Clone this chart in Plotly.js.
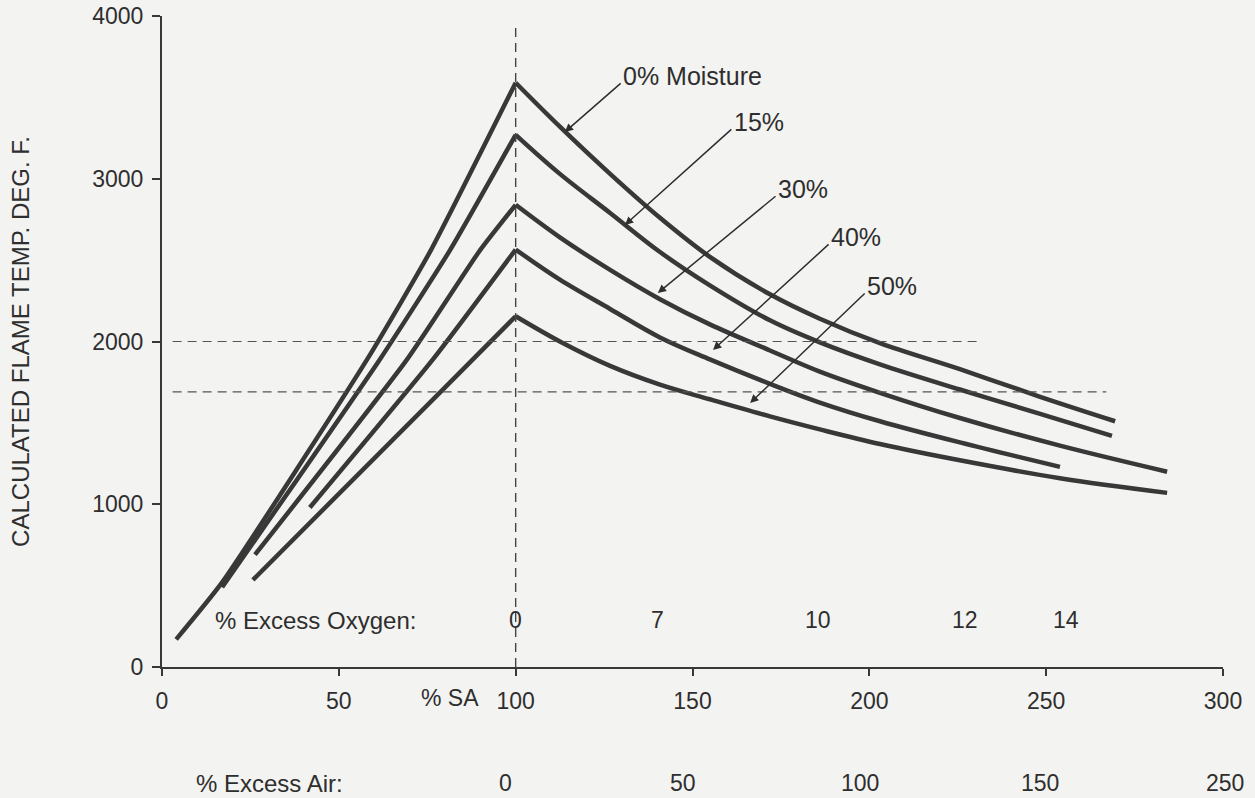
<!DOCTYPE html>
<html>
<head>
<meta charset="utf-8">
<script src="https://cdn.plot.ly/plotly-3.0.1.min.js"></script>
<style>html,body{margin:0;padding:0;background:#f3f3f1;}</style>
</head>
<body>
<div id="chart" style="width:1255px;height:798px;"></div>
<script>
// ---- data ----
const saTicks = [0, 50, 100, 150, 200, 250, 300];
const tempTicks = [0, 1000, 2000, 3000, 4000];

const seriesNames = ['0% Moisture', '15%', '30%', '40%', '50%'];

const moisture0_sa   = [4, 17, 58, 76, 100, 112.5, 126.7, 140.8, 154.9, 171.9, 186, 203, 225.6, 248.3, 269.5];
const moisture0_temp = [170, 520, 1890, 2560, 3590, 3320, 3030, 2760, 2520, 2290, 2140, 1990, 1830, 1660, 1510];

const moisture15_sa   = [17, 61.6, 81.4, 100, 112.5, 126.7, 140.8, 154.9, 171.9, 186, 203, 225.6, 248.3, 268.6];
const moisture15_temp = [490, 1890, 2560, 3270, 3030, 2790, 2550, 2345, 2130, 1995, 1860, 1705, 1555, 1420];

const moisture30_sa   = [26.3, 69.3, 89.9, 100, 112.5, 126.7, 140.8, 154.9, 171.9, 186, 203, 225.6, 253.9, 284.2];
const moisture30_temp = [690, 1890, 2560, 2840, 2640, 2440, 2260, 2105, 1945, 1815, 1685, 1530, 1360, 1200];

const moisture40_sa   = [41.8, 76.6, 100, 112.5, 126.7, 140.8, 154.9, 171.9, 186, 203, 225.6, 253.9];
const moisture40_temp = [980, 1890, 2565, 2380, 2200, 2025, 1890, 1740, 1625, 1510, 1380, 1230];

const moisture50_sa   = [25.7, 80.6, 100, 112.5, 126.7, 140.8, 154.9, 171.9, 186, 203, 225.6, 253.9, 284.2];
const moisture50_temp = [535, 1730, 2155, 2000, 1850, 1735, 1645, 1540, 1460, 1370, 1270, 1160, 1070];

// label leader lines: tip on curve, tail at label
const labelTipSA   = [113.9, 130.9, 140.2, 155.8, 166.3];
const labelTipTemp = [3287, 2716, 2298, 1948, 1622];
const labelTailSA   = [130.1, 161.4, 173.9, 188.9, 199.1];
const labelTailTemp = [3594, 3312, 2900, 2605, 2304];

// reference (dashed) lines
const refSA = 100;
const refSATop = 3960;
const refTemps = [2000, 1690];
const refTempStart = [3, 3];
const refTempEnd = [232, 267];

// secondary scales printed under the chart
const oxygenLabels = ['0', '7', '10', '12', '14'];
const oxygenPos = [100, 140.2, 185.5, 227, 255.6];
const excessAirLabels = ['0', '50', '100', '150', '250'];
const excessAirPos = [97, 147.3, 197.4, 248.3, 300.6];

// ---- build ----
const ink = '#383838';
const txt = '#2e2e2e';
const FONT = 'Liberation Sans, Arial, Helvetica, sans-serif';

const allSA = [moisture0_sa, moisture15_sa, moisture30_sa, moisture40_sa, moisture50_sa];
const allT  = [moisture0_temp, moisture15_temp, moisture30_temp, moisture40_temp, moisture50_temp];

const traces = [];
allSA.forEach((sa, i) => {
  const t = allT[i];
  let pk = 0;
  t.forEach((v, j) => { if (v > t[pk]) pk = j; });
  traces.push({
    x: sa.slice(0, pk + 1), y: t.slice(0, pk + 1), type: 'scatter', mode: 'lines',
    name: seriesNames[i], line: {color: ink, width: 4.5, shape: 'spline', smoothing: 0.5},
    showlegend: false, hoverinfo: 'x+y'
  });
  traces.push({
    x: sa.slice(pk), y: t.slice(pk), type: 'scatter', mode: 'lines',
    name: seriesNames[i], line: {color: ink, width: 4.5, shape: 'spline', smoothing: 1},
    showlegend: false, hoverinfo: 'x+y'
  });
});

const shapes = [];
shapes.push({type: 'line', xref: 'x', yref: 'y', x0: refSA, x1: refSA, y0: 0, y1: refSATop,
  line: {color: '#444', width: 1.4, dash: '9px,6px'}});
refTemps.forEach((v, i) => {
  shapes.push({type: 'line', xref: 'x', yref: 'y', x0: refTempStart[i], x1: refTempEnd[i], y0: v, y1: v,
    line: {color: '#555', width: 1.2, dash: '9px,6px'}});
});

const annotations = [];
seriesNames.forEach((n, i) => {
  annotations.push({
    x: labelTipSA[i], y: labelTipTemp[i], ax: labelTailSA[i], ay: labelTailTemp[i],
    xref: 'x', yref: 'y', axref: 'x', ayref: 'y', text: '', showarrow: true,
    arrowhead: 2, arrowsize: 1.1, arrowwidth: 1.5, arrowcolor: txt
  });
  annotations.push({
    x: labelTailSA[i], y: labelTailTemp[i], xref: 'x', yref: 'y', text: n, showarrow: false,
    xanchor: 'left', yanchor: 'middle', yshift: 6, xshift: -1,
    font: {family: FONT, size: 25, color: txt}
  });
});

function paperY(py) { return (667 - py) / 651; }

annotations.push({x: 72.4, y: paperY(620), xref: 'x', yref: 'paper', text: '% Excess Oxygen:',
  showarrow: false, xanchor: 'right', yanchor: 'middle', font: {family: FONT, size: 24, color: txt}});
oxygenLabels.forEach((l, i) => annotations.push({x: oxygenPos[i], y: paperY(620), xref: 'x', yref: 'paper',
  text: l, showarrow: false, xanchor: 'center', yanchor: 'middle', font: {family: FONT, size: 23, color: txt}}));

annotations.push({x: 81.4, y: paperY(698), xref: 'x', yref: 'paper', text: '% SA',
  showarrow: false, xanchor: 'center', yanchor: 'middle', font: {family: FONT, size: 23, color: txt}});

annotations.push({x: 30.5, y: paperY(783), xref: 'x', yref: 'paper', text: '% Excess Air:',
  showarrow: false, xanchor: 'center', yanchor: 'middle', font: {family: FONT, size: 24, color: txt}});
excessAirLabels.forEach((l, i) => {
  const p = excessAirPos[i];
  const inRange = Math.min(p, 300);
  annotations.push({x: inRange, xshift: (p - inRange) * 3.537, y: paperY(783), xref: 'x', yref: 'paper',
    text: l, showarrow: false, xanchor: 'center', yanchor: 'middle',
    font: {family: FONT, size: 23, color: txt}});
});

const layout = {
  width: 1255, height: 798,
  margin: {l: 162, r: 32, t: 16, b: 131, pad: 0},
  paper_bgcolor: '#f3f3f1', plot_bgcolor: '#f3f3f1',
  font: {family: FONT, color: txt, size: 23},
  showlegend: false,
  xaxis: {
    range: [0, 300], tickvals: saTicks, ticktext: saTicks.map(String),
    ticks: 'outside', ticklen: 7, tickwidth: 2, tickcolor: ink,
    showline: true, linecolor: ink, linewidth: 2, showgrid: false, zeroline: false,
    tickfont: {family: FONT, size: 23, color: txt}, ticklabelstandoff: 5
  },
  yaxis: {
    range: [0, 4000], tickvals: tempTicks, ticktext: tempTicks.map(String),
    ticks: 'outside', ticklen: 8, tickwidth: 2, tickcolor: ink,
    showline: true, linecolor: ink, linewidth: 2, showgrid: false, zeroline: false,
    tickfont: {family: FONT, size: 23, color: txt}, ticklabelstandoff: 4,
    title: {text: 'CALCULATED FLAME TEMP. DEG. F.', font: {family: FONT, size: 24, color: txt}, standoff: 56}
  },
  shapes: shapes,
  annotations: annotations
};

Plotly.newPlot('chart', traces, layout, {displayModeBar: false, staticPlot: true});
</script>
</body>
</html>
